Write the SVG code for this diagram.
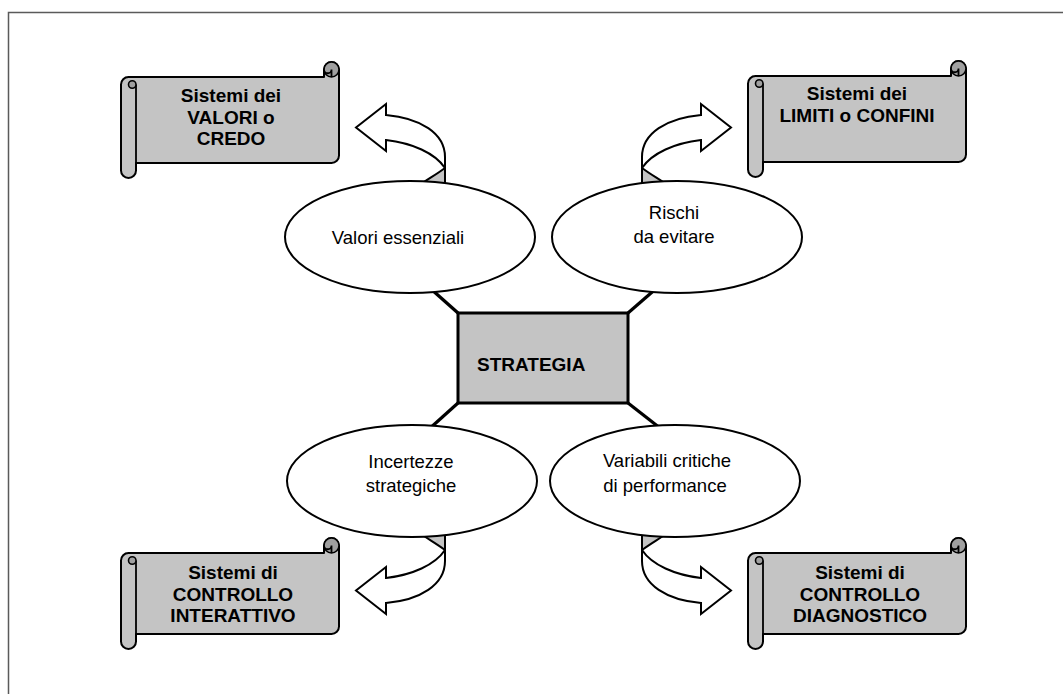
<svg xmlns="http://www.w3.org/2000/svg" xmlns:xlink="http://www.w3.org/1999/xlink" width="1063" height="694" viewBox="0 0 1063 694">
  <style>
    .frame { fill: none; stroke: #5a5a5a; stroke-width: 1.5; }
    .band { fill: #c4c4c4; stroke: #000; stroke-width: 2; stroke-linejoin: round; }
    .curl { fill: #a0a0a0; stroke: #000; stroke-width: 1.6; }
    .line { fill: none; stroke: #000; stroke-width: 1.8; }
    .oval { fill: #fff; stroke: #000; stroke-width: 2; }
    .core { fill: #c4c4c4; stroke: #000; stroke-width: 3; }
    .link { stroke: #000; stroke-width: 3.2; }
    .ribbon { fill: #fff; stroke: #000; stroke-width: 2; stroke-linejoin: miter; }
    .twist { fill: #c4c4c4; stroke: #000; stroke-width: 2; }
    .title { font-family: "Liberation Sans", Arial, sans-serif; font-size: 19px; font-weight: bold; fill: #000; text-anchor: middle; }
    .label { font-family: "Liberation Sans", Arial, sans-serif; font-size: 18.5px; fill: #000; text-anchor: middle; }
  </style>
  <defs>
    <!-- horizontal scroll banner, 218 wide, two heights -->
    <g id="scroll-tall">
      <path class="band" d="M15,15 L203,15 L203,7.5 A7.5,7.5 0 0 1 218,7.5 L218,93.5 A7.5,7.5 0 0 1 210.5,101 L15,101 L15,108.5 A7.5,7.5 0 0 1 7.5,116 A7.5,7.5 0 0 1 0,108.5 L0,22.5 A7.5,7.5 0 0 1 7.5,15 Z"/>
      <path class="line" d="M15,22.5 L15,108.5"/>
      <circle class="curl" cx="11.25" cy="22.5" r="3.75"/>
      <circle class="curl" cx="210.5" cy="7.5" r="7.5"/>
      <path class="line" d="M210.5,15 L210.5,7.5 A3.75,3.75 0 0 1 203,7.5"/>
    </g>
    <g id="scroll-short">
      <path class="band" d="M15,15 L203,15 L203,7.5 A7.5,7.5 0 0 1 218,7.5 L218,88.5 A7.5,7.5 0 0 1 210.5,96 L15,96 L15,103.5 A7.5,7.5 0 0 1 7.5,111 A7.5,7.5 0 0 1 0,103.5 L0,22.5 A7.5,7.5 0 0 1 7.5,15 Z"/>
      <path class="line" d="M15,22.5 L15,103.5"/>
      <circle class="curl" cx="11.25" cy="22.5" r="3.75"/>
      <circle class="curl" cx="210.5" cy="7.5" r="7.5"/>
      <path class="line" d="M210.5,15 L210.5,7.5 A3.75,3.75 0 0 1 203,7.5"/>
    </g>
  </defs>

  <rect x="0" y="0" width="1063" height="694" fill="#fff"/>
  <rect class="frame" x="8.5" y="12.5" width="1200" height="800"/>

  <!-- connectors: curved ribbon arrows and links to the centre box -->
  <g id="connectors">
    <line class="link" x1="458" y1="313" x2="422" y2="281"/>
    <line class="link" x1="628" y1="313" x2="666" y2="280"/>
    <line class="link" x1="458" y1="403" x2="428" y2="430"/>
    <line class="link" x1="628" y1="403" x2="660" y2="428"/>

    <g id="arrow-valori">
      <path class="twist" d="M418,186 C428,179 437,174 445,168 L445,196 L418,196 Z"/>
      <path class="ribbon" d="M445,168 L445,157 C445,133 420,118 386,115 L386,104 L356,127.5 L386,151 L386,140 C412,143 435,153 445,168 Z"/>
    </g>
    <g id="arrow-limiti">
      <path class="twist" d="M669,186 C659,179 650,174 642,168 L642,196 L669,196 Z"/>
      <path class="ribbon" d="M642,168 L642,157 C642,133 667,118 701,115 L701,104 L731,127.5 L701,151 L701,140 C675,143 652,153 642,168 Z"/>
    </g>
    <g id="arrow-interattivo">
      <path class="twist" d="M418,532 C428,539 437,544 445,550 L445,522 L418,522 Z"/>
      <path class="ribbon" d="M445,550 L445,561 C445,585 420,600 386,603 L386,614 L356,590.5 L386,567 L386,578 C412,575 435,565 445,550 Z"/>
    </g>
    <g id="arrow-diagnostico">
      <path class="twist" d="M669,532 C659,539 650,544 642,550 L642,522 L669,522 Z"/>
      <path class="ribbon" d="M642,550 L642,561 C642,585 667,600 701,603 L701,614 L731,590.5 L701,567 L701,578 C675,575 652,565 642,550 Z"/>
    </g>
  </g>

  <g id="node-strategia">
    <rect class="core" x="458" y="313" width="170" height="90"/>
    <text class="title" x="477" y="371" style="text-anchor:start">STRATEGIA</text>
  </g>

  <g id="node-valori-essenziali">
    <ellipse class="oval" cx="410" cy="237" rx="125" ry="56"/>
    <text class="label" x="398" y="244">Valori essenziali</text>
  </g>
  <g id="node-rischi">
    <ellipse class="oval" cx="677" cy="237" rx="125" ry="56"/>
    <text class="label" x="674" y="219">Rischi</text>
    <text class="label" x="674" y="243">da evitare</text>
  </g>
  <g id="node-incertezze">
    <ellipse class="oval" cx="412" cy="481" rx="125" ry="56"/>
    <text class="label" x="411" y="468">Incertezze</text>
    <text class="label" x="411" y="492">strategiche</text>
  </g>
  <g id="node-variabili">
    <ellipse class="oval" cx="675" cy="481" rx="125" ry="56"/>
    <text class="label" x="667" y="467">Variabili critiche</text>
    <text class="label" x="665" y="492">di performance</text>
  </g>

  <g id="node-sistemi-valori">
    <use xlink:href="#scroll-tall" x="121" y="62"/>
    <text class="title" x="231" y="102">Sistemi dei</text>
    <text class="title" x="231" y="124">VALORI o</text>
    <text class="title" x="231" y="145">CREDO</text>
  </g>
  <g id="node-sistemi-limiti">
    <use xlink:href="#scroll-tall" x="748" y="61"/>
    <text class="title" x="857" y="100">Sistemi dei</text>
    <text class="title" x="857" y="122">LIMITI o CONFINI</text>
  </g>
  <g id="node-controllo-interattivo">
    <use xlink:href="#scroll-short" x="121" y="538"/>
    <text class="title" x="233" y="579">Sistemi di</text>
    <text class="title" x="233" y="601">CONTROLLO</text>
    <text class="title" x="233" y="622">INTERATTIVO</text>
  </g>
  <g id="node-controllo-diagnostico">
    <use xlink:href="#scroll-short" x="748" y="538"/>
    <text class="title" x="860" y="579">Sistemi di</text>
    <text class="title" x="860" y="601">CONTROLLO</text>
    <text class="title" x="860" y="622">DIAGNOSTICO</text>
  </g>
</svg>
